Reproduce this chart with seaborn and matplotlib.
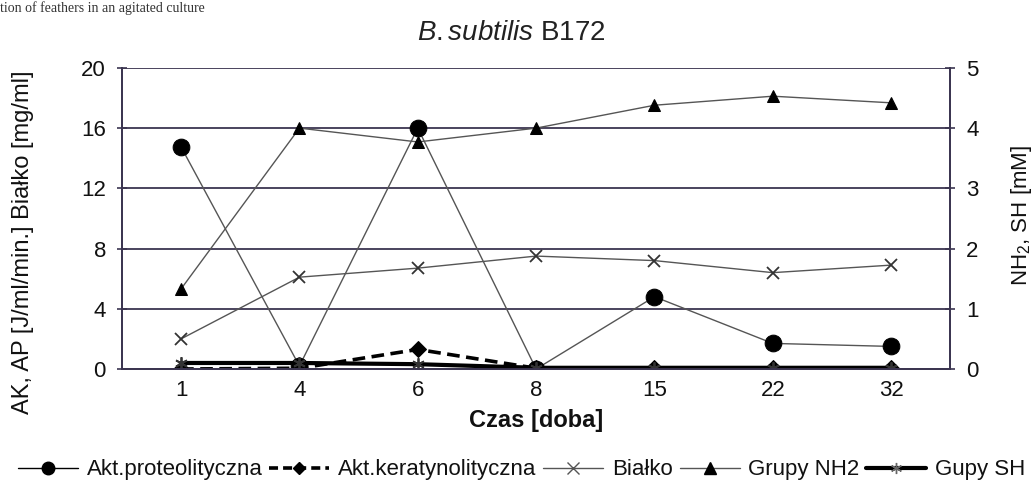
import matplotlib
matplotlib.use("Agg")
import matplotlib.pyplot as plt
import seaborn as sns
import pandas as pd
from matplotlib.lines import Line2D

# ---- data ----
days = ["1", "4", "6", "8", "15", "22", "32"]
akt_proteolityczna = [14.75, 0.2, 16.0, 0.0, 4.8, 1.7, 1.5]
akt_keratynolityczna = [0.0, 0.05, 1.3, 0.05, 0.05, 0.05, 0.05]
bialko = [2.0, 6.1, 6.7, 7.5, 7.2, 6.4, 6.9]
grupy_nh2 = [1.33, 4.0, 3.77, 4.0, 4.38, 4.53, 4.42]
gupy_sh = [0.1, 0.1, 0.08, 0.02, 0.02, 0.02, 0.02]
left_ticks = [0, 4, 8, 12, 16, 20]
right_ticks = [0, 1, 2, 3, 4, 5]

sns.set_style("white")
plt.rcParams["font.family"] = ["Liberation Sans", "DejaVu Sans"]
plt.rcParams["mathtext.fontset"] = "custom"
plt.rcParams["mathtext.it"] = "Liberation Sans:italic"
plt.rcParams["mathtext.rm"] = "Liberation Sans"
plt.rcParams["text.color"] = "#111111"
plt.rcParams["axes.labelcolor"] = "#111111"
plt.rcParams["xtick.color"] = "#111111"
plt.rcParams["ytick.color"] = "#111111"

df = pd.DataFrame({
    "Czas": days,
    "AP": akt_proteolityczna,
    "AK": akt_keratynolityczna,
    "B": bialko,
    "NH2": grupy_nh2,
    "SH": gupy_sh,
})

fig = plt.figure(figsize=(10.33, 4.92), dpi=100)
ax = fig.add_axes([0.118, 0.250, 0.802, 0.612])
ax2 = ax.twinx()

grid_c = "#3b3550"
line_c = "#555555"

sns.lineplot(data=df, x="Czas", y="AP", ax=ax, sort=False, color=line_c, lw=1,
             marker="o", markersize=12, markerfacecolor="black", markeredgecolor="black")
sns.lineplot(data=df, x="Czas", y="AK", ax=ax, sort=False, color="black", lw=2.6,
             linestyle=(0, (3.5, 1.8)), marker="D", markersize=8,
             markerfacecolor="black", markeredgecolor="black")
sns.lineplot(data=df, x="Czas", y="B", ax=ax, sort=False, color=line_c, lw=1,
             marker="x", markersize=8, markeredgewidth=1.3, markeredgecolor="#333333")
sns.lineplot(data=df, x="Czas", y="NH2", ax=ax2, sort=False, color=line_c, lw=1,
             marker="^", markersize=9, markerfacecolor="black", markeredgecolor="black")
sns.lineplot(data=df, x="Czas", y="SH", ax=ax2, sort=False, color="black", lw=3,
             marker=(6, 2, 0), markersize=9, markeredgewidth=1.3, markeredgecolor="#333333")

ax.set_xlim(-0.5, len(days) - 0.5)
ax.set_ylim(0, 20)
ax2.set_ylim(0, 5)
ax.set_yticks(left_ticks)
ax2.set_yticks(right_ticks)
ax.set_xticks(range(len(days)))
ax.set_xticklabels(days)
ax.set_xticks([i + 0.5 for i in range(len(days) - 1)], minor=True)
ax.tick_params(axis="x", which="major", length=0, labelsize=16, pad=8)
ax.tick_params(axis="x", which="minor", length=8, direction="inout", color=grid_c, width=1.2)
ax.tick_params(axis="y", length=7, direction="inout", color=grid_c, width=1.2, labelsize=16, pad=8)
ax2.tick_params(axis="y", length=7, direction="inout", color=grid_c, width=1.2, labelsize=16, pad=8)

ax.yaxis.grid(True, color=grid_c, lw=1.3)
ax.set_axisbelow(True)
for a in (ax, ax2):
    a.spines["top"].set_visible(False)
    for s in ["left", "right", "bottom"]:
        a.spines[s].set_color(grid_c)
        a.spines[s].set_linewidth(1.3)

ax.set_xlabel("Czas [doba]", fontsize=17, fontweight="bold", labelpad=6)
ax.set_ylabel("AK, AP [J/ml/min.] Białko [mg/ml]", fontsize=17)
ax.yaxis.set_label_coords(-0.106, 0.42)
ax2.set_ylabel("NH$_2$, SH [mM]", fontsize=16)
ax2.yaxis.set_label_coords(1.071, 0.51)

fig.text(0.495, 0.932, r"$\it{B.subtilis}$ B172", ha="center", va="center", fontsize=20,
         color="#222222")
fig.text(0.0, 0.998, "tion of feathers in an agitated culture", ha="left", va="top",
         fontsize=10, family=["Liberation Serif"], color="#333333")

handles = [
    Line2D([], [], color="black", lw=1, marker="o", markersize=9, markerfacecolor="black"),
    Line2D([], [], color="black", lw=2.6, linestyle=(0, (2.5, 1.4)), marker="D", markersize=6,
           markerfacecolor="black"),
    Line2D([], [], color=line_c, lw=1, marker="x", markersize=8, markeredgecolor="#555555"),
    Line2D([], [], color=line_c, lw=1, marker="^", markersize=8, markerfacecolor="black",
           markeredgecolor="black"),
    Line2D([], [], color="black", lw=3, marker=(6, 2, 0), markersize=8, markeredgecolor="#666666"),
]
labels = ["Akt.proteolityczna", "Akt.keratynolityczna", "Białko", "Grupy NH2", "Gupy SH"]
fig.legend(handles, labels, loc="center", bbox_to_anchor=(0.505, 0.045), ncol=5, frameon=False,
           fontsize=16, handlelength=2.7, handletextpad=0.4, columnspacing=0.3,
           borderpad=0.1, borderaxespad=0.1)

fig.savefig("out.png", dpi=100)
